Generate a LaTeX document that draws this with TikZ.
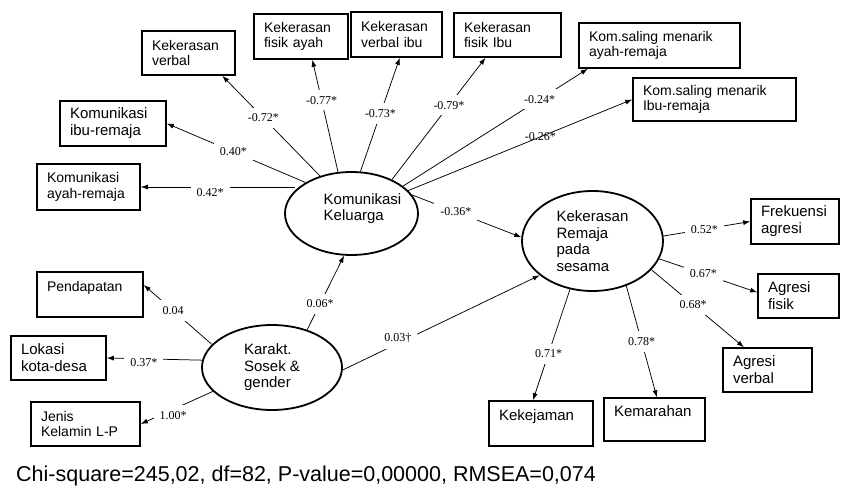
\documentclass[tikz,border=0pt]{standalone}
\usepackage{fontspec}
\setmainfont{Liberation Sans}
\newfontfamily\coeffont{Liberation Serif}
\usetikzlibrary{shapes.geometric, arrows.meta}
\hyphenpenalty=10000
\exhyphenpenalty=10000

\tikzset{
  obs/.style 2 args={draw, rectangle, line width=1.6pt, align=left, inner xsep=10pt, inner ysep=0pt,
    text width=#1, minimum height=#2, font=\fontsize{14}{15.5}\selectfont},
  bigobs/.style 2 args={obs={#1}{#2}, font=\fontsize{15}{17}\selectfont},
  latent/.style={draw, ellipse, line width=1.8pt, inner sep=0pt, align=left, font=\fontsize{15}{16.5}\selectfont},
  load/.style={-{Latex[length=7pt,width=5pt]}, line width=0.75pt},
  coef/.style={fill=white, inner sep=6pt, font=\coeffont\fontsize{12}{12}\selectfont},
}

\begin{document}
\begin{tikzpicture}[x=1pt, y=-1pt]
    \useasboundingbox (0,0) rectangle (841,486);

    % latent variables
    \node[latent, minimum width=133pt, minimum height=83pt,
      label={[name=kk-txt, align=left, font=\fontsize{15}{16.5}\selectfont, xshift=11pt, yshift=5pt]center:Komunikasi\\Keluarga}] (kk) at (351.5,213.5) {};
    \node[latent, minimum width=141pt, minimum height=100pt] (kr) at (592.5,241) {Kekerasan\\Remaja\\pada\\sesama};
    \node[latent, minimum width=140pt, minimum height=85pt] (ks) at (272,367.5) {Karakt.\\Sosek \&\\gender};

    % indicators
    \node[obs={73pt}{44pt}] (kv) at (188.5,53) {Kekerasan\\verbal};
    \node[obs={74pt}{45pt}] (kfa) at (301,36.5) {Kekerasan\\fisik ayah};
    \node[obs={71pt}{45pt}] (kvi) at (396.5,34.5) {Kekerasan\\verbal ibu};
    \node[obs={87pt}{44pt}] (kfi) at (507.5,35) {Kekerasan\\fisik Ibu};
    \node[obs={141pt}{45pt}] (ksa) at (659.5,45.5) {Kom.saling menarik\\ayah-remaja};
    \node[obs={143pt}{43pt}] (ksi) at (714.5,99.5) {Kom.saling menarik\\Ibu-remaja};
    \node[bigobs={86pt}{45pt}] (kir) at (113,123.5) {Komunikasi\\ibu-remaja};
    \node[obs={83pt}{46pt}] (kar) at (88.5,187) {Komunikasi\\ayah-remaja};
    \node[obs={86pt}{45pt}] (pend) at (90,294.5) {Pendapatan\\\mbox{}};
    \node[bigobs={75pt}{44pt}] (lok) at (58.5,358) {Lokasi\\kota-desa};
    \node[obs={89pt}{44pt}] (jk) at (85.5,424) {Jenis\\Kelamin L-P};
    \node[bigobs={68pt}{45pt}] (fa) at (795,221.5) {Frekuensi\\agresi};
    \node[bigobs={61pt}{44pt}] (af) at (798.5,296) {Agresi\\fisik};
    \node[bigobs={69pt}{44pt}] (av) at (767.5,370) {Agresi\\verbal};
    \node[bigobs={81pt}{43pt}] (kem) at (654.5,419.5) {Kemarahan\\\mbox{}};
    \node[bigobs={84pt}{45pt}] (kej) at (541,423.5) {Kekejaman\\\mbox{}};

    \draw[load] (kk.130) to node[coef, pos=0.58]{-0.72*} (kv.-34);
    \draw[load] (kk.108) to node[coef, pos=0.64]{-0.77*} (kfa.-64);
    \draw[load] (kk.78) to node[coef, pos=0.51]{-0.73*} (kvi.-82);
    \draw[load] (kk.40) to node[coef, pos=0.61]{-0.79*} (kfi.-134);
    \draw[load] (kk.28) to node[coef, pos=0.74]{-0.24*} (ksa.-162.5);
    \draw[load] (kk.22) to node[coef, pos=0.59, fill=none]{-0.26*} (ksi.west);
    \draw[load] (kk.146) to node[coef, pos=0.52]{0.40*} (kir.east);
    \draw[load] (kk.158 |- kar.east) to node[coef, pos=0.55, yshift=-6pt]{0.42*} (kar.east);
    \draw[load] (kk.17) to node[coef, pos=0.4]{-0.36*} (kr.177);
    \draw[load] (ks.-2) to node[coef, pos=0.28, yshift=5pt]{0.03†} (kr.-147);
    \draw[load] (ks.47) to node[coef, pos=0.35]{0.06*} (kk.-100);
    \draw[load] (ks.159) to node[coef, pos=0.57]{0.04} (pend.10);
    \draw[load] (ks.174) to node[coef, pos=0.61, yshift=-4pt]{0.37*} (lok.east);
    \draw[load] (ks.-158) to node[coef, pos=0.55, yshift=-6pt]{1.00*} (jk.east);
    \draw[load] (kr.4) to node[coef, pos=0.47]{0.52*} (fa.west);
    \draw[load] (kr.-15) to node[coef, pos=0.45]{0.67*} (af.175);
    \draw[load] (kr.-26) to node[coef, pos=0.45]{0.68*} (av.136);
    \draw[load] (kr.-115) to node[coef, pos=0.58]{0.71*} (kej.109);
    \draw[load] (kr.-53) to node[coef, pos=0.5]{0.78*} (kem.84);

    \node[anchor=base west, inner sep=0pt, font=\fontsize{21.5}{24}\selectfont] (fit) at (16,481)
      {Chi-square=245,02, df=82, P-value=0,00000, RMSEA=0,074};
\end{tikzpicture}
\end{document}
